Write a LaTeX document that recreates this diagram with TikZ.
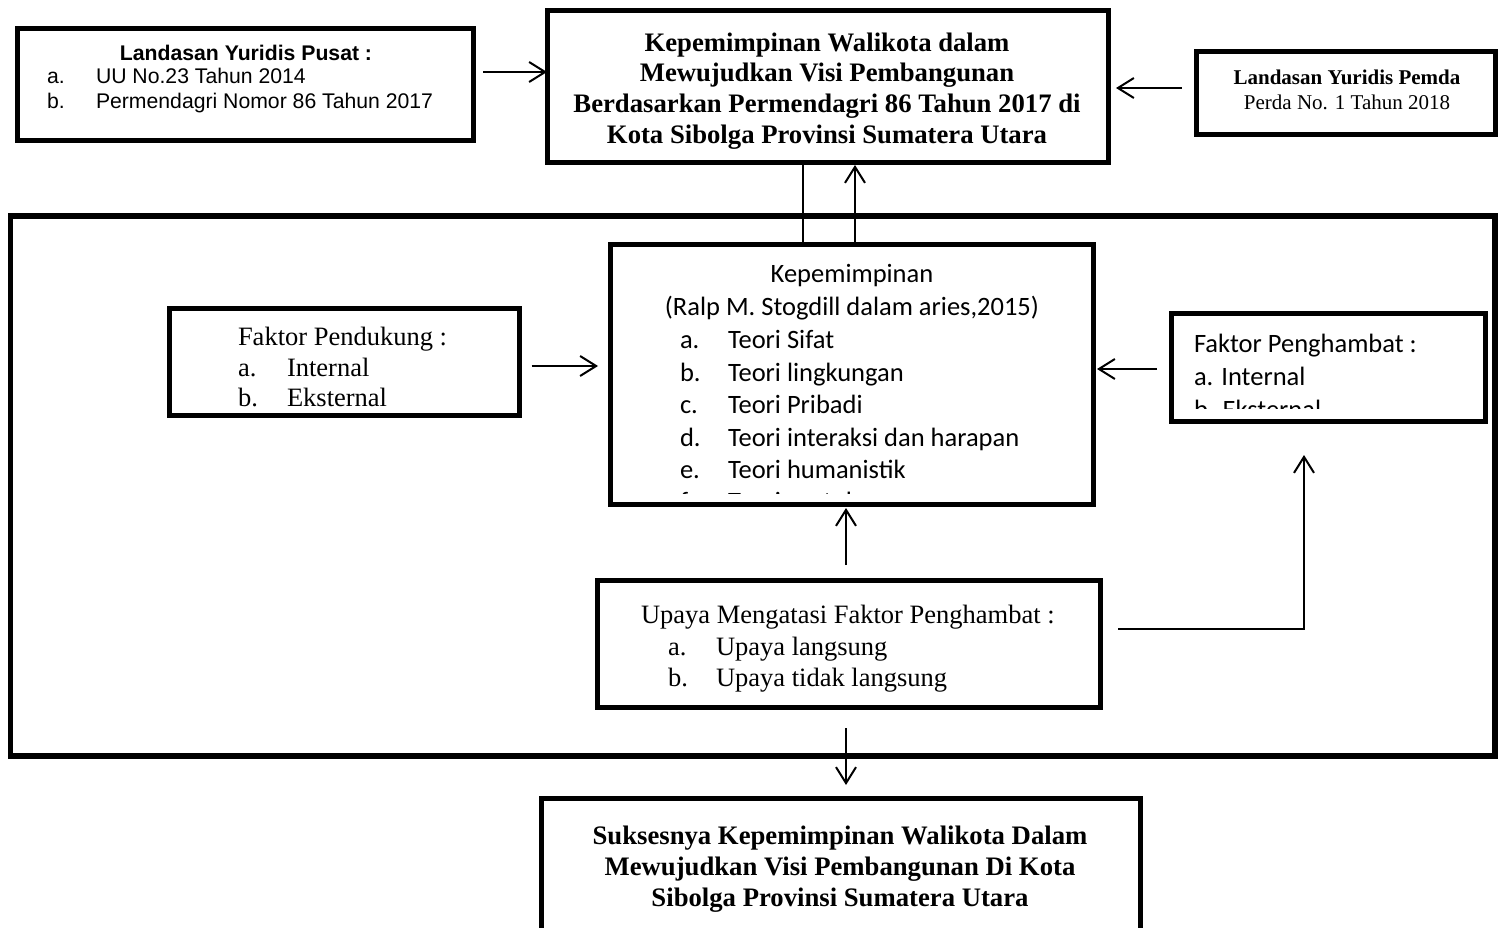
\documentclass[tikz,border=0pt]{standalone}
\usepackage{fontspec}
\setmainfont{Liberation Serif}
\newfontfamily\arialf{Liberation Sans}
\newfontfamily\calibrif{Carlito}
\usetikzlibrary{arrows.meta}
\newcommand{\tnr}{\fontsize{26.5}{31}\selectfont}
\newcommand{\tnrb}{\fontsize{26.7}{31}\selectfont\bfseries}
\newcommand{\tnrs}{\fontsize{21}{25}\selectfont}
\newcommand{\ars}{\arialf\fontsize{21.2}{24}\selectfont}
\newcommand{\calf}{\calibrif\fontsize{26.5}{32.5}\selectfont}
\tikzset{
  box/.style={draw, line width=5pt, inner sep=0pt, outer sep=0pt, rectangle},
  frame/.style={draw, line width=5.5pt},
  conn/.style={line width=2pt, -{Straight Barb[length=16pt,width=20pt,line width=2pt]}},
  plainline/.style={line width=2pt},
  txtl/.style={inner sep=0pt, outer sep=0pt, anchor=base west},
  txtc/.style={inner sep=0pt, outer sep=0pt, anchor=base},
}
\begin{document}
\begin{tikzpicture}[x=1pt,y=-1pt]
\useasboundingbox (0,0) rectangle (1499,928);
\clip (0,0) rectangle (1499,928);
% outer frame
\draw[frame] (10.5,216) rectangle (1495,756);
% boxes
\node[box, minimum width=456, minimum height=112] (pusat) at (245,85) {};
\node[box, minimum width=561, minimum height=152] (judul) at (827.5,87) {};
\node[box, minimum width=299, minimum height=83] (pemda) at (1346,93.5) {};
\node[box, minimum width=483, minimum height=260] (kep) at (851.5,374.5) {};
\node[box, minimum width=350, minimum height=107] (pendukung) at (344.5,361.5) {};
\node[box, minimum width=314, minimum height=108] (penghambat) at (1328,367.5) {};
\node[box, minimum width=503, minimum height=127] (upaya) at (848.5,643.5) {};
\node[box, minimum width=599, minimum height=160] (hasil) at (840.5,878) {};
% texts: pusat
\node[txtc, font=\ars\bfseries] (p0) at (246,61) {Landasan Yuridis Pusat :};
\node[txtl, font=\ars] (p1a) at (47,84) {a.};
\node[txtl, font=\ars] (p1b) at (96,84) {UU No.23 Tahun 2014};
\node[txtl, font=\ars] (p2a) at (47,109) {b.};
\node[txtl, font=\ars] (p2b) at (96,109) {Permendagri Nomor 86 Tahun 2017};
% judul
\node[txtc, font=\tnrb] (j1) at (827,52) {Kepemimpinan Walikota dalam};
\node[txtc, font=\tnrb] (j2) at (827,82) {Mewujudkan Visi Pembangunan};
\node[txtc, font=\tnrb] (j3) at (827,113) {Berdasarkan Permendagri 86 Tahun 2017 di};
\node[txtc, font=\tnrb] (j4) at (827,144) {Kota Sibolga Provinsi Sumatera Utara};
% pemda
\node[txtc, font=\tnrs\bfseries] (m1) at (1347,85) {Landasan Yuridis Pemda};
\node[txtc, font=\tnrs] (m2) at (1347,110) {Perda No. 1 Tahun 2018};
% kepemimpinan
\node[txtc, font=\calf] (k0) at (852,282) {Kepemimpinan};
\node[txtc, font=\calf] (k1) at (852,315) {(Ralp M. Stogdill dalam aries,2015)};
\node[txtl, font=\calf] (ka) at (680,348) {a.};
\node[txtl, font=\calf] (kat) at (728,348) {Teori Sifat};
\node[txtl, font=\calf] (kb) at (680,381) {b.};
\node[txtl, font=\calf] (kbt) at (728,381) {Teori lingkungan};
\node[txtl, font=\calf] (kc) at (680,413) {c.};
\node[txtl, font=\calf] (kct) at (728,413) {Teori Pribadi};
\node[txtl, font=\calf] (kd) at (680,446) {d.};
\node[txtl, font=\calf] (kdt) at (728,446) {Teori interaksi dan harapan};
\node[txtl, font=\calf] (ke) at (680,478) {e.};
\node[txtl, font=\calf] (ket) at (728,478) {Teori humanistik};
\begin{scope}
\clip (612,470) rectangle (1090,493);
\node[txtl, font=\calf] (kf) at (680,510.5) {f.};
\node[txtl, font=\calf] (kft) at (728,510.5) {Teori pertukaran};
\end{scope}
% pendukung
\node[txtl, font=\tnr] (d0) at (238,345) {Faktor Pendukung :};
\node[txtl, font=\tnr] (d1) at (238,376) {a.};
\node[txtl, font=\tnr] (d1t) at (287,376) {Internal};
\node[txtl, font=\tnr] (d2) at (238,406) {b.};
\node[txtl, font=\tnr] (d2t) at (287,406) {Eksternal};
% penghambat
\node[txtl, font=\calf] (h0) at (1194,352) {Faktor Penghambat :};
\node[txtl, font=\calf] (h1) at (1194,385) {a. Internal};
\begin{scope}
\clip (1174,390) rectangle (1482,408);
\node[txtl, font=\calf] (h2) at (1194,418) {b. Eksternal};
\end{scope}
% upaya
\node[txtl, font=\tnr] (u0) at (641,623) {Upaya Mengatasi Faktor Penghambat :};
\node[txtl, font=\tnr] (u1) at (668,655) {a.};
\node[txtl, font=\tnr] (u1t) at (716,655) {Upaya langsung};
\node[txtl, font=\tnr] (u2) at (668,686) {b.};
\node[txtl, font=\tnr] (u2t) at (716,686) {Upaya tidak langsung};
% hasil
\node[txtc, font=\tnrb] (r1) at (840,844) {Suksesnya Kepemimpinan Walikota Dalam};
\node[txtc, font=\tnrb] (r2) at (840,875) {Mewujudkan Visi Pembangunan Di Kota};
\node[txtc, font=\tnrb] (r3) at (840,906) {Sibolga Provinsi Sumatera Utara};
% connector end points
\coordinate (c1s) at ([xshift=10pt]pusat.east |- 0,72);
\coordinate (c1e) at (judul.west |- 0,72);
\coordinate (c2s) at ([xshift=-15pt]pemda.west |- 0,88);
\coordinate (c2e) at ([xshift=8pt]judul.east |- 0,88);
\coordinate (c5s) at ([xshift=12pt]pendukung.east |- 0,366);
\coordinate (c5e) at ([xshift=-12pt]kep.west |- 0,366);
\coordinate (c6s) at ([xshift=-14pt]penghambat.west |- 0,369);
\coordinate (c6e) at ([xshift=4pt]kep.east |- 0,369);
\coordinate (c7s) at (846,565);
\coordinate (c7e) at (846,508);
\coordinate (c8s) at (1118,629);
\coordinate (c8e) at (1304,455);
\coordinate (c9s) at (846,728);
\coordinate (c9e) at (846,785);
% connectors
\draw[conn] (c1s) -- (c1e);
\draw[conn] (c2s) -- (c2e);
\draw[plainline] (kep.north -| 803,0) -- (judul.south -| 803,0);
\draw[conn] (kep.north -| 855,0) -- ([yshift=-2pt]judul.south -| 855,0);
\draw[conn] (c5s) -- (c5e);
\draw[conn] (c6s) -- (c6e);
\draw[conn] (c7s) -- (c7e);
\draw[conn] (c8s) -| (c8e);
\draw[conn] (c9s) -- (c9e);
\end{tikzpicture}
\end{document}
